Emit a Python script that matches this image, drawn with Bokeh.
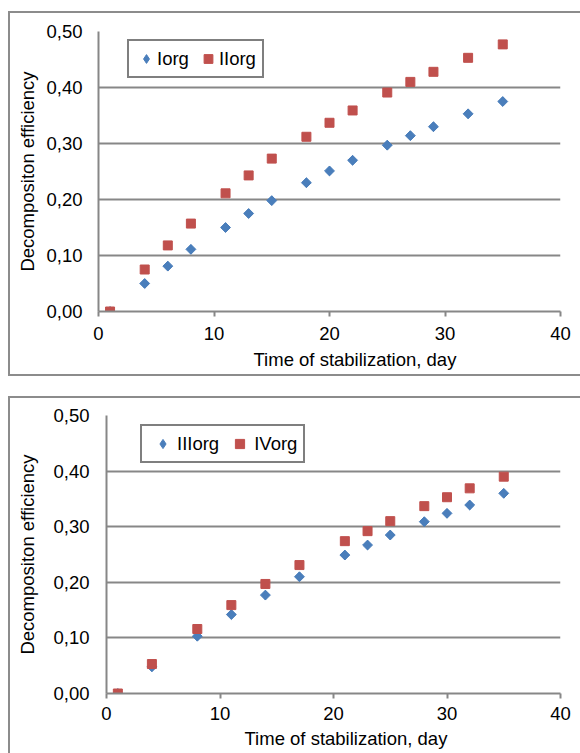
import math
from bokeh.plotting import figure
from bokeh.layouts import column, row
from bokeh.models import (Range1d, FixedTicker, CustomJSTickFormatter, Legend,
                          LegendItem, Spacer, Title)
from bokeh.embed import file_html
from bokeh.resources import INLINE

# ---- data ----
days_top = [1, 4, 6, 8, 11, 13, 15, 18, 20, 22, 25, 27, 29, 32, 35]
iorg = [0.000, 0.050, 0.081, 0.111, 0.150, 0.175, 0.198, 0.230, 0.251, 0.270,
        0.297, 0.314, 0.330, 0.353, 0.375]
iiorg = [0.000, 0.075, 0.118, 0.157, 0.211, 0.243, 0.273, 0.312, 0.337, 0.359,
         0.391, 0.410, 0.428, 0.453, 0.477]

days_bottom = [1, 4, 8, 11, 14, 17, 21, 23, 25, 28, 30, 32, 35]
iiiorg = [0.000, 0.048, 0.103, 0.142, 0.177, 0.210, 0.249, 0.267, 0.285,
          0.309, 0.324, 0.339, 0.360]
ivorg = [0.000, 0.053, 0.116, 0.159, 0.197, 0.231, 0.274, 0.292, 0.310,
         0.337, 0.353, 0.369, 0.390]

x_ticks = [0, 10, 20, 30, 40]
y_ticks = [0.0, 0.1, 0.2, 0.3, 0.4, 0.5]
x_title = "Time of stabilization, day"
y_title = "Decompositon efficiency"

BLUE = "#4a7ebb"
RED = "#c0504d"
GRID = "#878787"
FONT = "Liberation Sans"
FS = "18.5px"


def make_chart(xs, ya, yb, name_a, name_b, height, left, top, bottom,
               ytick_standoff, ylab_standoff, xtick_standoff, xtitle_offset,
               xtitle_standoff, legend_loc, leg_glyph_w, leg_spacing,
               bottom_border=True):
    p = figure(width=570, height=height, output_backend="svg",
               toolbar_location=None, x_range=Range1d(0, 40),
               y_range=Range1d(0, 0.5),
               min_border_left=left, min_border_right=22,
               min_border_top=top, min_border_bottom=bottom)
    p.outline_line_color = None
    p.background_fill_color = "white"
    p.border_fill_color = "white"
    st = {"box-sizing": "content-box",
          "border-left": "2px solid #8c8c8c",
          "border-top": "2px solid #8c8c8c"}
    if bottom_border:
        st["border-bottom"] = "2px solid #8c8c8c"
    p.styles = st

    p.xgrid.grid_line_color = None
    p.ygrid.grid_line_color = GRID
    p.ygrid.grid_line_width = 2
    p.ygrid.ticker = FixedTicker(ticks=y_ticks)

    fmt = CustomJSTickFormatter(code="return tick.toFixed(2).replace('.', ',');")
    p.yaxis.ticker = FixedTicker(ticks=y_ticks)
    p.yaxis.formatter = fmt
    p.xaxis.ticker = FixedTicker(ticks=x_ticks)

    for ax in (p.xaxis[0], p.yaxis[0]):
        ax.axis_line_color = GRID
        ax.axis_line_width = 2
        ax.major_tick_line_color = GRID
        ax.major_tick_line_width = 2
        ax.minor_tick_line_color = None
        ax.major_tick_in = 0
        ax.major_label_text_font = FONT
        ax.major_label_text_font_size = FS
        ax.major_label_text_color = "black"
        ax.axis_label_text_font = FONT
        ax.axis_label_text_font_size = FS
        ax.axis_label_text_font_style = "normal"
        ax.axis_label_text_color = "black"

    p.xaxis.major_tick_out = 5
    p.xaxis.major_label_standoff = xtick_standoff
    p.yaxis.major_tick_out = 0
    p.yaxis.major_label_standoff = ytick_standoff
    p.yaxis.axis_label = y_title
    p.yaxis.axis_label_standoff = ylab_standoff

    p.add_layout(Title(text=x_title, align="left", offset=xtitle_offset,
                       standoff=xtitle_standoff, vertical_align="top",
                       text_font=FONT, text_font_size=FS,
                       text_font_style="normal", text_color="black"),
                 "below")

    # diamond renderer (hidden under the rotated squares) gives the legend glyph
    la = p.scatter(xs, ya, marker="diamond", size=9,
                   fill_color=BLUE, line_color=BLUE)
    p.scatter(xs, ya, marker="square", size=7, angle=math.pi / 4,
              fill_color=BLUE, line_color=BLUE)
    lb = p.scatter(xs, yb, marker="square", size=9,
                   fill_color=RED, line_color=RED)

    leg = Legend(items=[LegendItem(label=name_a, renderers=[la]),
                        LegendItem(label=name_b, renderers=[lb])],
                 orientation="horizontal", location=legend_loc,
                 border_line_color="black", border_line_width=2,
                 background_fill_color="white", background_fill_alpha=1,
                 padding=6, spacing=leg_spacing, glyph_width=leg_glyph_w,
                 glyph_height=23, label_standoff=0, margin=0,
                 label_text_font=FONT, label_text_font_size=FS,
                 label_text_color="black")
    p.add_layout(leg)
    return p


p1 = make_chart(days_top, iorg, iiorg, "Iorg", "IIorg", height=361,
                left=88, top=18, bottom=65, ytick_standoff=16,
                ylab_standoff=5, xtick_standoff=10, xtitle_offset=155,
                xtitle_standoff=13, legend_loc=(29, 233),
                leg_glyph_w=22, leg_spacing=8)
p2 = make_chart(days_bottom, iiiorg, ivorg, "IIIorg", "IVorg", height=355,
                left=96, top=17, bottom=60, ytick_standoff=17,
                ylab_standoff=12, xtick_standoff=8, xtitle_offset=138,
                xtitle_standoff=10, legend_loc=(34, 230),
                leg_glyph_w=29, leg_spacing=6, bottom_border=False)

root1 = row(Spacer(width=8), column(Spacer(height=11), p1))
root2 = row(Spacer(width=8), column(Spacer(height=20), p2))
open("out.html", "w").write(file_html([root1, root2], INLINE))
